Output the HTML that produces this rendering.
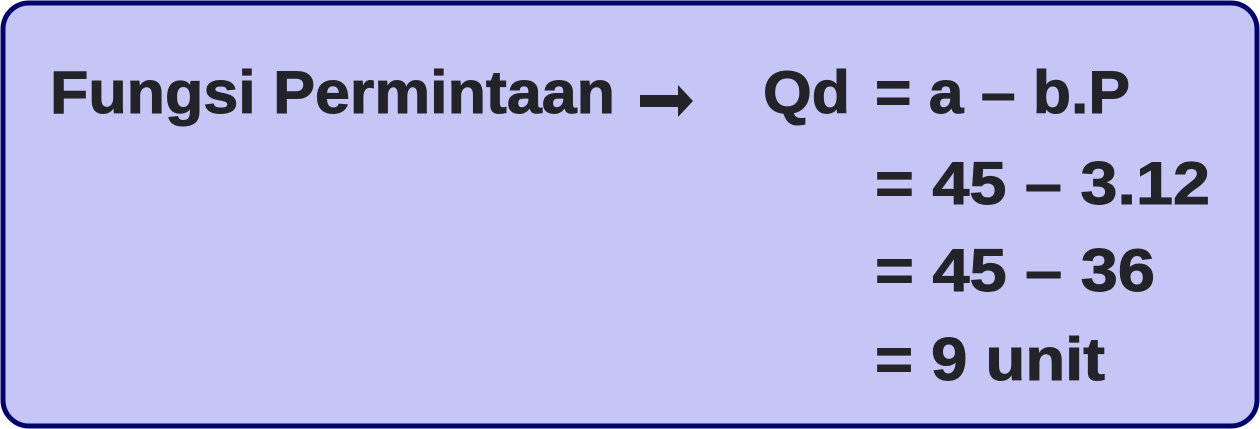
<!DOCTYPE html>
<html><head><style>
html,body{margin:0;padding:0;background:#fff;}
svg{display:block;}
text{font-family:"Liberation Sans",sans-serif;font-weight:bold;fill:#232329;stroke:#232329;stroke-width:1;font-size:60px;}
</style></head><body>
<svg width="1260" height="429" viewBox="0 0 1260 429">
<rect x="3" y="3" width="1254" height="423" rx="26" fill="#c5c5f6" stroke="#03036b" stroke-width="5"/>
<text x="50" y="113" textLength="565" lengthAdjust="spacingAndGlyphs">Fungsi Permintaan</text>
<path d="M640 95 H678 V85 L693 101 L678 117 V107 H640 Z" fill="#232329"/>
<text x="763" y="113" textLength="87" lengthAdjust="spacingAndGlyphs">Qd</text>
<text x="875" y="113" textLength="255" lengthAdjust="spacingAndGlyphs">= a – b.P</text>
<text x="875" y="204" textLength="335" lengthAdjust="spacingAndGlyphs">= 45 – 3.12</text>
<text x="875" y="291" textLength="280" lengthAdjust="spacingAndGlyphs">= 45 – 36</text>
<text x="875" y="380" textLength="230" lengthAdjust="spacingAndGlyphs">= 9 unit</text>
</svg>
</body></html>
